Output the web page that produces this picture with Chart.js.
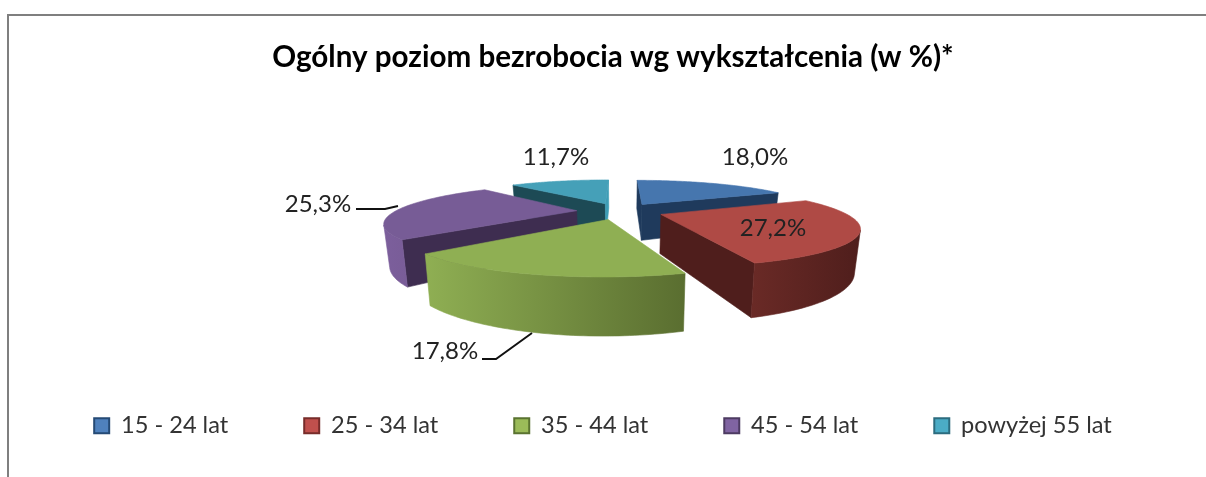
<!DOCTYPE html>
<html>
<head>
<meta charset="utf-8">
<script src="https://cdn.jsdelivr.net/npm/chart.js@4/dist/chart.umd.min.js"></script>
<style>
    html, body { margin: 0; padding: 0; background: #fff; overflow: hidden; }
    #frame { position: absolute; left: 7px; top: 14px; width: 1300px; height: 600px; border: 2px solid #7f7f7f; }
    #chart { position: absolute; left: 0; top: 0; filter: blur(0.4px); }
</style>
</head>
<body>
<div id="frame"></div>
<canvas id="chart" width="1206" height="477"></canvas>
<script>
const categories = ['15 - 24 lat', '25 - 34 lat', '35 - 44 lat', '45 - 54 lat', 'powyżej 55 lat'];
const values = [18.0, 27.2, 17.8, 25.3, 11.7];
const titleText = 'Ogólny poziom bezrobocia wg wykształcenia (w %)*';

const topColors = ['#4676AE', '#AF4A45', '#8FAF53', '#775C96', '#45A0B8'];
const legendFill = ['#4F81BD', '#C0504D', '#9BBB59', '#8064A2', '#4BACC6'];
const legendEdge = ['#254A75', '#772C2A', '#5A7330', '#4D3B62', '#2C6C7F'];
const rimLeft = ['#2F5A8C', '#6A2A26', '#8FAF53', '#7C5F9C', '#3E93A9'];
const rimRight = ['#1F3A5C', '#4F1E1C', '#5A6E30', '#6E5389', '#2E7A8C'];
const startWall = ['#1F3A5C', '#4F1E1C', '#5A6E30', '#3E2D50', '#1D4A55'];
const endWall = ['#1F3A5C', '#4F1E1C', '#5A6E30', '#3E2D50', '#3E9DB5'];

// 3D view of the pie
const view = { cx: 620, cy: 211, ax: 181, ay: 34.4, persp: 0.29, explode: 0.24, height: 38, shrink: 0.975 };
const drawOrder = [4, 0, 3, 1, 2];
const labelPos = [[755, 157], [773, 228], [445, 351], [318, 204], [556, 157]];
const leaders = {
    3: [[356, 209], [385, 209], [398, 206]],
    2: [[482, 359], [496, 359], [532, 333]]
};

function project(u, v, low) {
    const w = 1 / (1 - view.persp * v);
    const s = low ? view.shrink : 1;
    return {
        x: view.cx + view.ax * u * w * s,
        y: view.cy + view.ay * v * w + (low ? view.height * w : 0)
    };
}

function poly(ctx, pts, fill) {
    ctx.beginPath();
    pts.forEach((p, i) => i ? ctx.lineTo(p.x, p.y) : ctx.moveTo(p.x, p.y));
    ctx.closePath();
    ctx.fillStyle = fill;
    ctx.strokeStyle = fill;
    ctx.lineWidth = 0.6;
    ctx.fill();
    ctx.stroke();
}

function frontFacing(p, q, r, s) {
    const pts = [p, q, r, s];
    let sum = 0;
    pts.forEach((a, i) => {
        const b = pts[(i + 1) % 4];
        sum += a.x * b.y - b.x * a.y;
    });
    return sum < 0;
}

const pie3d = {
    id: 'pie3d',
    afterLayout(chart) {
        // title sits a little right of the legend in the original
        chart.titleBlock.left += 10;
        chart.titleBlock.right += 10;
        // legend row goes at y=425, its huge padding would push it off otherwise
        chart.legend.top = 338;
        chart.legend.bottom = 477;
    },
    beforeDatasetsDraw(chart) {
        const ctx = chart.ctx;
        const arcs = chart.getDatasetMeta(0).data;
        ctx.save();
        drawOrder.forEach(i => {
            const a0 = arcs[i].startAngle + Math.PI / 2;
            const a1 = arcs[i].endAngle + Math.PI / 2;
            const mid = (a0 + a1) / 2;
            const ox = Math.sin(mid) * view.explode;
            const oy = -Math.cos(mid) * view.explode;
            const steps = 60;
            const top = [], low = [];
            for (let k = 0; k <= steps; k++) {
                const t = a0 + (a1 - a0) * k / steps;
                const u = ox + Math.sin(t), v = oy - Math.cos(t);
                top.push(project(u, v, false));
                low.push(project(u, v, true));
            }
            const apexTop = project(ox, oy, false);
            const apexLow = project(ox, oy, true);

            // radial cut faces
            if (frontFacing(apexTop, top[0], low[0], apexLow)) {
                poly(ctx, [apexTop, top[0], low[0], apexLow], startWall[i]);
            }
            if (frontFacing(top[steps], apexTop, apexLow, low[steps])) {
                poly(ctx, [top[steps], apexTop, apexLow, low[steps]], endWall[i]);
            }

            // outer rim, only the part that faces us, shaded left to right
            const xs = top.concat(low).map(p => p.x);
            const grad = ctx.createLinearGradient(Math.min(...xs), 0, Math.max(...xs), 0);
            grad.addColorStop(0, rimLeft[i]);
            grad.addColorStop(1, rimRight[i]);
            const rimTop = [], rimLow = [];
            for (let k = 0; k < steps; k++) {
                if (frontFacing(top[k], top[k + 1], low[k + 1], low[k])) {
                    if (!rimTop.length) { rimTop.push(top[k]); rimLow.push(low[k]); }
                    rimTop.push(top[k + 1]);
                    rimLow.push(low[k + 1]);
                }
            }
            if (rimTop.length) poly(ctx, rimTop.concat(rimLow.reverse()), grad);

            poly(ctx, [apexTop].concat(top), topColors[i]);
        });
        ctx.restore();
        return false; // flat arcs replaced by the 3D ones above
    },
    afterDraw(chart) {
        const ctx = chart.ctx;
        ctx.save();
        ctx.strokeStyle = '#111';
        ctx.lineWidth = 2;
        Object.values(leaders).forEach(line => {
            ctx.beginPath();
            line.forEach((p, k) => k ? ctx.lineTo(p[0], p[1]) : ctx.moveTo(p[0], p[1]));
            ctx.stroke();
        });
        ctx.font = '24px Lato';
        ctx.fillStyle = '#222';
        ctx.textAlign = 'center';
        ctx.textBaseline = 'middle';
        values.forEach((val, i) => {
            ctx.fillText(val.toFixed(1).replace('.', ',') + '%', labelPos[i][0], labelPos[i][1]);
        });
        ctx.restore();
    }
};

new Chart(document.getElementById('chart'), {
    type: 'pie',
    data: {
        labels: categories,
        datasets: [{
            data: values,
            backgroundColor: legendFill,
            borderColor: legendEdge,
            borderWidth: 2
        }]
    },
    plugins: [pie3d],
    options: {
        responsive: false,
        animation: false,
        layout: { padding: { top: 40 } },
        plugins: {
            tooltip: { enabled: false },
            title: {
                display: true,
                text: titleText,
                color: '#000',
                font: { family: 'Lato', size: 29.6, weight: 'bold' },
                padding: { top: 0, bottom: 0 }
            },
            legend: {
                position: 'bottom',
                labels: {
                    color: '#333',
                    font: { family: 'Lato', size: 23.6 },
                    boxWidth: 15,
                    boxHeight: 15,
                    padding: 76
                }
            }
        }
    }
});
</script>
</body>
</html>
